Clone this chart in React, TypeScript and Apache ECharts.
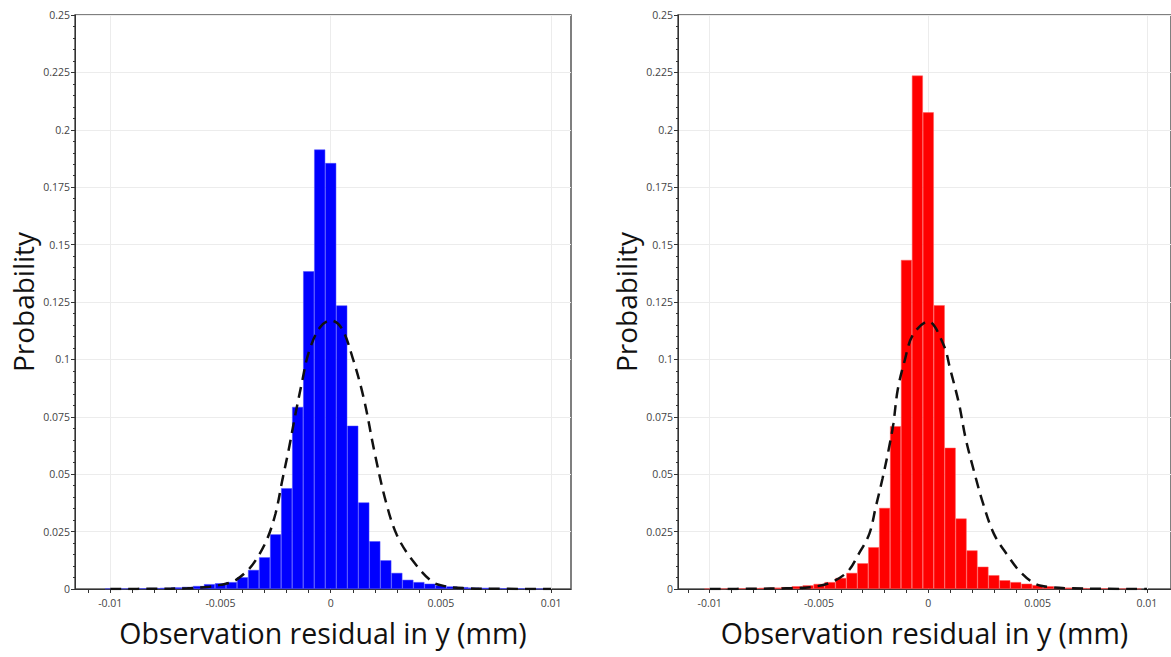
import React, { useEffect, useRef } from "react";
import * as echarts from "echarts";

// Bin centres (mm), bin width 0.0005
const binCenters = [
  -0.01, -0.0095, -0.009, -0.0085, -0.008, -0.0075, -0.007, -0.0065, -0.006, -0.0055,
  -0.005, -0.0045, -0.004, -0.0035, -0.003, -0.0025, -0.002, -0.0015, -0.001, -0.0005,
  0, 0.0005, 0.001, 0.0015, 0.002, 0.0025, 0.003, 0.0035, 0.004, 0.0045,
  0.005, 0.0055, 0.006, 0.0065, 0.007, 0.0075, 0.008, 0.0085, 0.009, 0.0095,
];

const blueProb = [
  0.0002, 0.0002, 0.0003, 0.0003, 0.0004, 0.0005, 0.0007, 0.0009, 0.0013, 0.0021,
  0.0025, 0.003, 0.0051, 0.0083, 0.0138, 0.0238, 0.0439, 0.0793, 0.1384, 0.1914,
  0.1855, 0.1235, 0.0711, 0.0377, 0.0208, 0.0125, 0.007, 0.004, 0.003, 0.0023,
  0.0016, 0.0011, 0.0008, 0.0006, 0.0005, 0.0004, 0.0003, 0.0003, 0.0002, 0.0001,
];

const redProb = [
  0.0002, 0.0002, 0.0003, 0.0003, 0.0004, 0.0005, 0.0006, 0.0008, 0.0012, 0.0016,
  0.0022, 0.003, 0.0048, 0.007, 0.0112, 0.0182, 0.0353, 0.0709, 0.1433, 0.2236,
  0.2076, 0.1236, 0.0615, 0.0307, 0.0168, 0.0097, 0.006, 0.0038, 0.003, 0.0023,
  0.0017, 0.0012, 0.0008, 0.0006, 0.0004, 0.0003, 0.0003, 0.0002, 0.0002, 0.0001,
];

// Fitted normal curve
const blueCurveX = [
  -0.01, -0.008, -0.0065, -0.0055, -0.005, -0.0044, -0.0038, -0.0034, -0.0029, -0.0025,
  -0.0022, -0.0019, -0.0016, -0.0013, -0.001, -0.0005, 0, 0.0005, 0.001, 0.0015,
  0.002, 0.0025, 0.003, 0.0037, 0.0046, 0.0052, 0.006, 0.0075, 0.01,
];
const blueCurveY = [
  0, 0.0001, 0.0003, 0.001, 0.0018, 0.0034, 0.0078, 0.0126, 0.0214, 0.033,
  0.0472, 0.061, 0.0762, 0.0902, 0.103, 0.1138, 0.117, 0.1135, 0.1005, 0.083,
  0.059, 0.0381, 0.0235, 0.0126, 0.0032, 0.0012, 0.0004, 0.0001, 0,
];

const redCurveX = [
  -0.01, -0.008, -0.0065, -0.0054, -0.0045, -0.0037, -0.0032, -0.0027, -0.0024, -0.0021,
  -0.0018, -0.0016, -0.0014, -0.0011, -0.0007, 0, 0.0007, 0.001, 0.0014, 0.0017,
  0.0021, 0.0025, 0.003, 0.0036, 0.0042, 0.0049, 0.0056, 0.0065, 0.008, 0.01,
];
const redCurveY = [
  0, 0.0001, 0.0003, 0.0008, 0.0027, 0.0075, 0.015, 0.024, 0.0359, 0.0479,
  0.0614, 0.0719, 0.0868, 0.0988, 0.1108, 0.1165, 0.1063, 0.0958, 0.0808, 0.0659,
  0.0509, 0.0374, 0.024, 0.015, 0.0075, 0.0022, 0.0008, 0.0003, 0.0001, 0,
];

const xLabelValues = [-0.01, -0.005, 0, 0.005, 0.01];
const xTickValues = [
  -0.011, -0.01, -0.009, -0.008, -0.007, -0.006, -0.005, -0.004, -0.003, -0.002, -0.001,
  0, 0.001, 0.002, 0.003, 0.004, 0.005, 0.006, 0.007, 0.008, 0.009, 0.01,
];
const yMin = 0;
const yMax = 0.25;
const yInterval = 0.025;

const xTitle = "Observation residual in y (mm)";
const yTitle = "Probability";

const FONT = "'Open Sans', 'Noto Sans', sans-serif";

function pairs(xs: number[], ys: number[]) {
  return xs.map((x, i) => [x, ys[i]]);
}

export default function App() {
  const ref = useRef<HTMLDivElement>(null);

  useEffect(() => {
    if (!ref.current) return;
    const chart = echarts.init(ref.current, undefined, { renderer: "svg" });

    const makeX = (gridIndex: number, min: number, max: number) => ({
      type: "value",
      gridIndex,
      min,
      max,
      name: xTitle,
      nameLocation: "middle",
      nameGap: 29,
      nameTextStyle: { fontSize: 28.5, color: "#111", fontFamily: FONT },
      axisLine: { show: true, onZero: false, lineStyle: { color: "#333", width: 1 } },
      axisTick: {
        show: true,
        customValues: xTickValues,
        length: 4,
        lineStyle: { color: "#333" },
      },
      axisLabel: {
        customValues: xLabelValues,
        fontSize: 10.5,
        color: "#444",
        fontFamily: FONT,
        margin: 8,
      },
      splitLine: { show: false },
    });

    const makeY = (gridIndex: number) => ({
      type: "value",
      gridIndex,
      min: yMin,
      max: yMax,
      interval: yInterval,
      name: yTitle,
      nameLocation: "middle",
      nameGap: 38,
      nameTextStyle: { fontSize: 28, color: "#111", fontFamily: FONT },
      axisLine: { show: true, onZero: false, lineStyle: { color: "#333", width: 1 } },
      axisTick: { show: true, length: 4, lineStyle: { color: "#333" } },
      minorTick: { show: true, splitNumber: 5, length: 2, lineStyle: { color: "#333" } },
      axisLabel: { fontSize: 10.5, color: "#444", fontFamily: FONT, margin: 5 },
      splitLine: { show: true, lineStyle: { color: "#ececec", width: 1 } },
    });

    const gridLineSeries = (idx: number) => ({
      type: "line",
      xAxisIndex: idx,
      yAxisIndex: idx,
      data: [],
      z: 0,
      silent: true,
      markLine: {
        silent: true,
        symbol: "none",
        z: 0,
        label: { show: false },
        lineStyle: { color: "#ececec", width: 1, type: "solid" },
        data: xLabelValues.map((v) => ({ xAxis: v })),
      },
    });

    const barSeries = (idx: number, vals: number[], color: string, border: string) => ({
      type: "bar",
      xAxisIndex: idx,
      yAxisIndex: idx,
      data: pairs(binCenters, vals),
      barWidth: "100%",
      z: 2,
      itemStyle: { color, borderColor: border, borderWidth: 0.5 },
    });

    const curveSeries = (idx: number, xs: number[], ys: number[]) => ({
      type: "line",
      xAxisIndex: idx,
      yAxisIndex: idx,
      data: pairs(xs, ys),
      smooth: 0.35,
      symbol: "none",
      z: 3,
      lineStyle: { color: "#111", width: 2.5, type: [11, 7] },
    });

    chart.setOption({
      animation: false,
      backgroundColor: "#fff",
      grid: [
        { left: 75, top: 15, width: 496, height: 574, show: true, borderColor: "#555", borderWidth: 1.5, backgroundColor: "transparent" },
        { left: 678, top: 15, width: 496, height: 574, show: true, borderColor: "#555", borderWidth: 1.5, backgroundColor: "transparent" },
      ],
      xAxis: [makeX(0, -0.0116, 0.0109), makeX(1, -0.01145, 0.0111)],
      yAxis: [makeY(0), makeY(1)],
      series: [
        gridLineSeries(0),
        gridLineSeries(1),
        barSeries(0, blueProb, "#0000ff", "#4d4dff"),
        barSeries(1, redProb, "#ff0000", "#ff5c5c"),
        curveSeries(0, blueCurveX, blueCurveY),
        curveSeries(1, redCurveX, redCurveY),
      ],
    });

    return () => chart.dispose();
  }, []);

  return <div ref={ref} style={{ width: 1171, height: 657, position: "absolute", left: 0, top: 0 }} />;
}
